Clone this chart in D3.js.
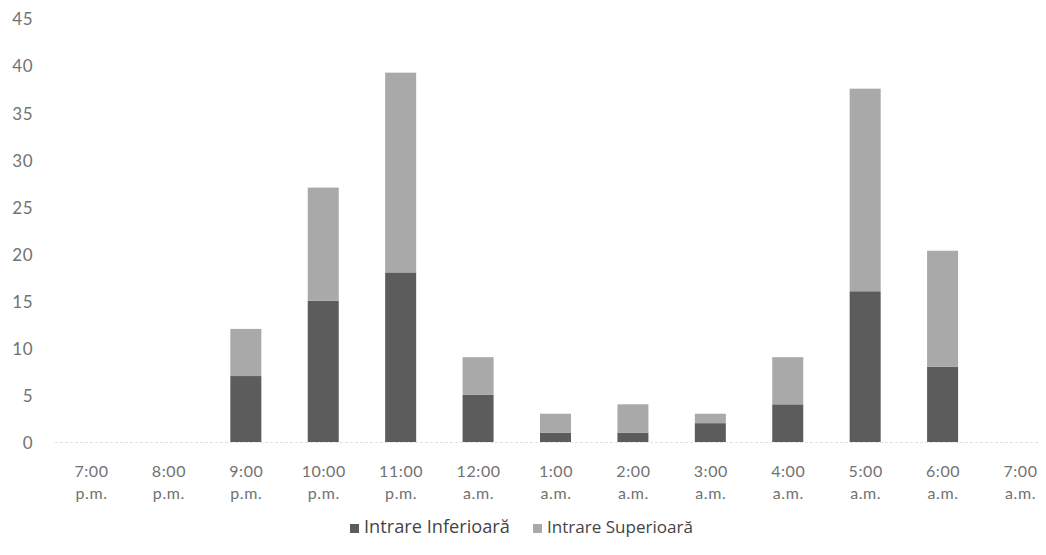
<!DOCTYPE html>
<html><head><meta charset="utf-8">
<script src="https://cdn.jsdelivr.net/npm/d3@7"></script>
<style>
html,body{margin:0;padding:0;background:#fff;}
svg{display:block;}
</style></head>
<body>
<svg id="c" width="1046" height="555"></svg>
<script>
const categories = ["7:00|p.m.","8:00|p.m.","9:00|p.m.","10:00|p.m.","11:00|p.m.","12:00|a.m.","1:00|a.m.","2:00|a.m.","3:00|a.m.","4:00|a.m.","5:00|a.m.","6:00|a.m.","7:00|a.m."];
const inferioara = [0,0,7,15,18,5,1,1,2,4,16,8,0];
const superioara = [0,0,5,12,21.2,4,2,3,1,5,21.5,12.3,0];
const seriesNames = ["Intrare Inferioară","Intrare Superioară"];
const yTicks = [0,5,10,15,20,25,30,35,40,45];

const svg = d3.select("#c");
const colors = ["#5c5c5c","#a9a9a9"];
const x = d3.scalePoint().domain(categories).range([91,1020]);
const y = d3.scaleLinear().domain([0,45]).range([442,18]);
const bw = 31;
const labelFont = "Lato, 'Open Sans', sans-serif";

// baseline
svg.append("line").attr("x1",55).attr("x2",1040).attr("y1",y(0)+0.5).attr("y2",y(0)+0.5)
  .attr("stroke","#e2e2e2").attr("stroke-width",1).attr("stroke-dasharray","3,2");

const data = categories.map((c,i)=>({cat:c, inf:inferioara[i], sup:superioara[i]}));
const stack = d3.stack().keys(["inf","sup"])(data);
stack.forEach((s,si)=>{
  svg.append("g").selectAll("rect").data(s.filter(d=>d[1]-d[0]>0)).join("rect")
    .attr("x",d=>x(d.data.cat)-bw/2).attr("width",bw)
    .attr("y",d=>y(d[1])).attr("height",d=>y(d[0])-y(d[1]))
    .attr("fill",colors[si]);
});

// y axis
const ya = svg.append("g").attr("transform","translate(33,0)")
  .call(d3.axisLeft(y).tickValues(yTicks).tickSize(0).tickPadding(0));
ya.select(".domain").remove();
ya.selectAll("text").attr("font-family",labelFont).attr("font-size",17)
  .attr("fill","#727272").attr("dy","0.4em").attr("letter-spacing",0.5);

// x axis
const xa = svg.append("g").attr("transform",`translate(0,${y(0)})`)
  .call(d3.axisBottom(x).tickSize(0).tickPadding(0));
xa.select(".domain").remove();
xa.selectAll("text").text(null).attr("font-family",labelFont).attr("font-size",16)
  .attr("fill","#727272").attr("y",0).attr("dy",0).attr("letter-spacing",0.6)
  .each(function(d){
    const parts=d.split("|");
    const t=d3.select(this);
    t.append("tspan").attr("x",0).attr("y",35).text(parts[0]);
    t.append("tspan").attr("x",0).attr("y",57).text(parts[1]);
  });

// legend
const leg = svg.append("g");
const legX = [350, 533];
seriesNames.forEach((n,i)=>{
  leg.append("rect").attr("x",legX[i]).attr("y",524).attr("width",9).attr("height",9).attr("fill",colors[i]);
  const t = leg.append("text").attr("x",legX[i]+14).attr("y",533).text(n)
    .attr("font-family","'Open Sans', sans-serif").attr("font-size",16).attr("fill","#444");
  const w = t.node().getComputedTextLength();
  t.attr("font-size", 16*146/w);
});
</script>
</body></html>
